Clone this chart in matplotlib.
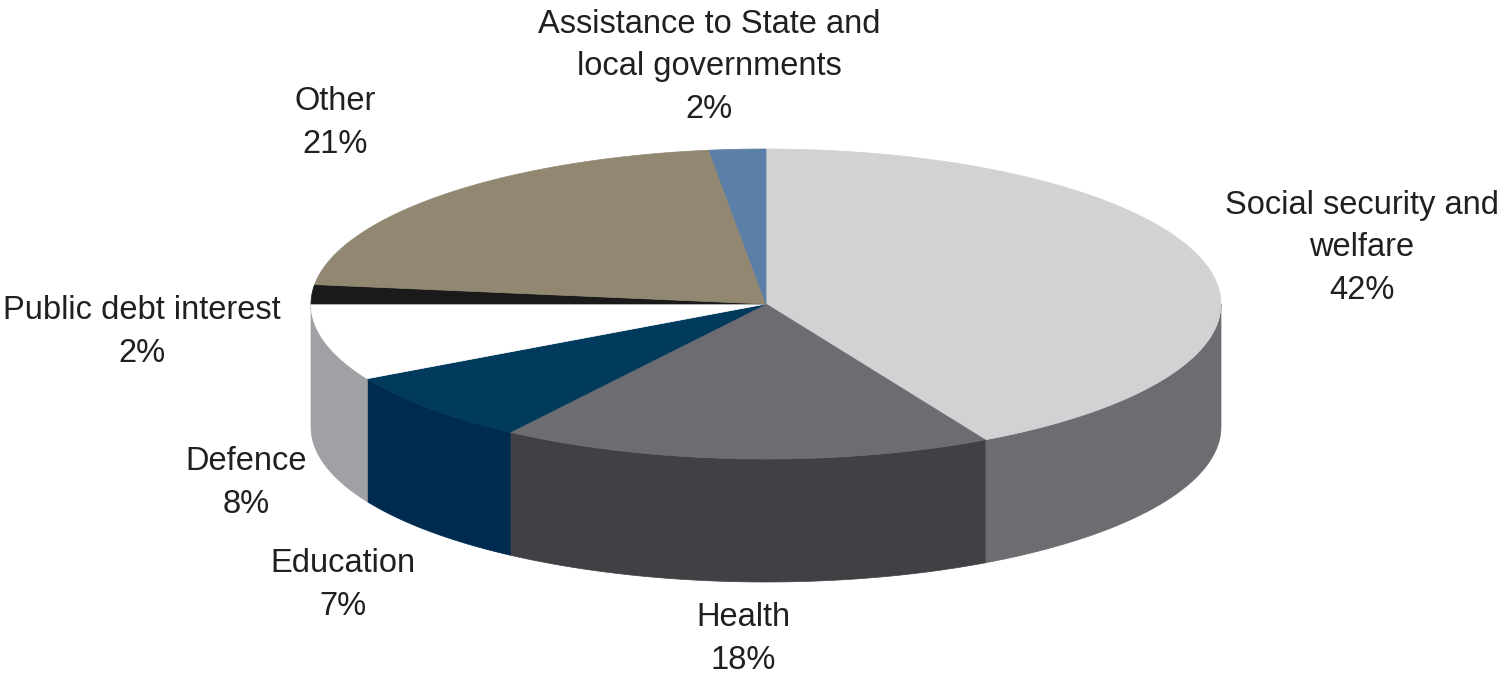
import numpy as np
import matplotlib.pyplot as plt
from matplotlib.patches import Polygon

# Spending shares, clockwise from 12 o'clock
categories = ["Social security and\nwelfare", "Health", "Education", "Defence",
              "Public debt interest", "Other", "Assistance to State and\nlocal governments"]
shares = [42.0, 17.5, 7.5, 8.0, 2.0, 21.0, 2.0]      # slice sizes
pct_labels = [42, 18, 7, 8, 2, 21, 2]                # printed percentages

top_colors = ["#d1d2d4", "#6d6c71", "#003a5d", "#ffffff", "#1a1a1a", "#928872", "#5b7fa6"]
side_colors = ["#6d6c71", "#414045", "#002b50", "#a0a1a5", "#111111", "#6e6656", "#3f5f80"]

# label centres (pixels)
label_pos = [(1362, 248), (743, 639), (343, 585), (246, 483), (142, 332), (335, 123), (709, 67)]

# pie geometry in pixels
cx, cy = 766, 304
rx, ry = 455, 155
depth = 123


def ellipse_pts(a0, a1, dy=0, n=200):
    t = np.radians(np.linspace(a0, a1, n))
    return np.column_stack([cx + rx * np.sin(t), cy - ry * np.cos(t) + dy])


fig = plt.figure(figsize=(15.11, 6.79), dpi=100)
ax = fig.add_axes([0, 0, 1, 1])
ax.set_xlim(0, 1511)
ax.set_ylim(679, 0)
ax.axis("off")

bounds = np.concatenate([[0], np.cumsum(shares)]) / sum(shares) * 360

# sides (front half only: 90..270 deg)
for i in range(len(shares)):
    a0, a1 = max(bounds[i], 90), min(bounds[i + 1], 270)
    if a1 <= a0:
        continue
    top = ellipse_pts(a0, a1)
    bot = ellipse_pts(a0, a1, dy=depth)[::-1]
    ax.add_patch(Polygon(np.vstack([top, bot]), closed=True, facecolor=side_colors[i],
                         edgecolor=side_colors[i], linewidth=0.5))

# top faces
for i in range(len(shares)):
    pts = np.vstack([[cx, cy], ellipse_pts(bounds[i], bounds[i + 1])])
    ax.add_patch(Polygon(pts, closed=True, facecolor=top_colors[i],
                         edgecolor=top_colors[i], linewidth=0.5))

for name, val, (x, y) in zip(categories, pct_labels, label_pos):
    ax.text(x, y, f"{name}\n{val}%", ha="center", va="center", fontsize=23.5,
            family="Liberation Sans", color="#231f20", linespacing=1.47)

fig.savefig("out.png", dpi=100)
